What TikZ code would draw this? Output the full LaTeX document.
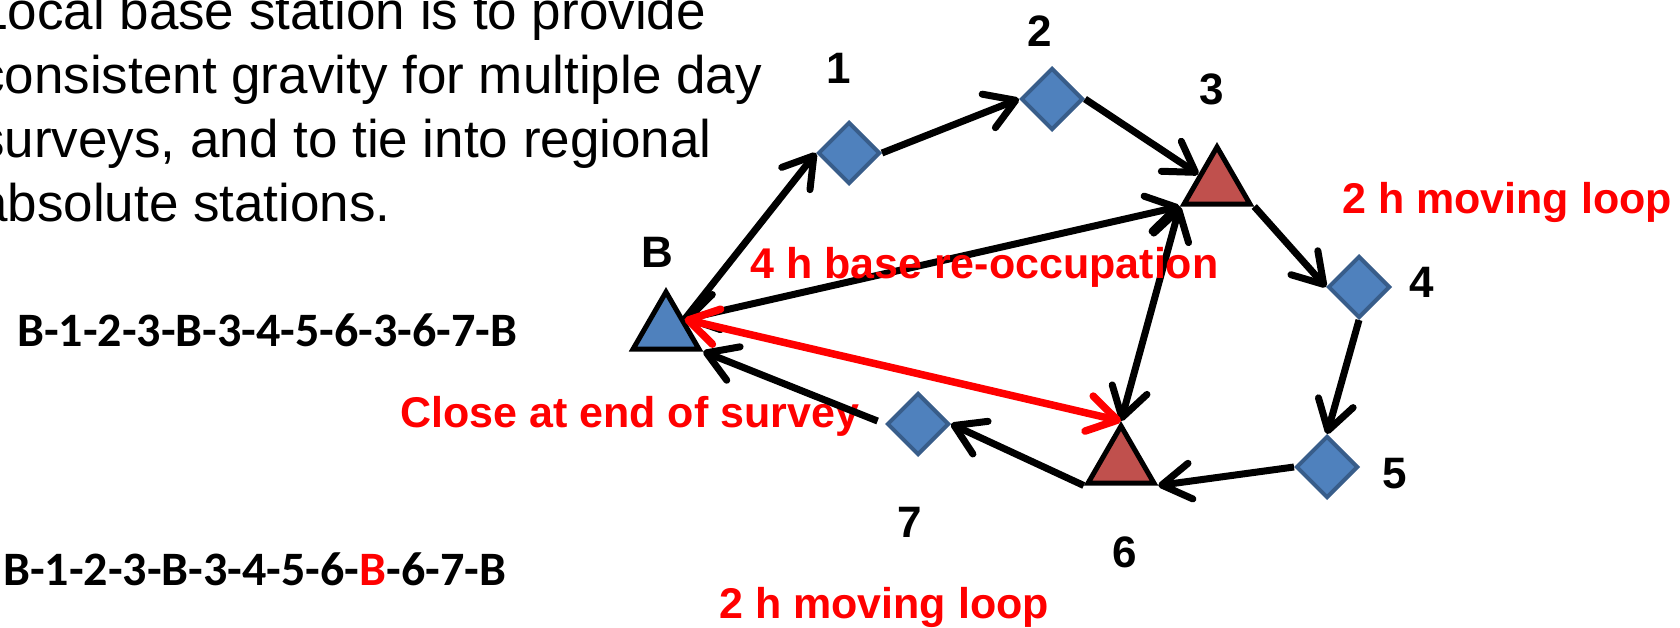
\documentclass[tikz,border=0pt]{standalone}
\usepackage{fontspec}
\setmainfont{Liberation Sans}
\newfontfamily\calibrifont{Carlito}
\usetikzlibrary{arrows.meta,shapes.geometric}
\definecolor{nodeblue}{HTML}{4F81BD}
\definecolor{blueedge}{HTML}{385D8A}
\definecolor{nodered}{HTML}{C0504D}
\definecolor{txtred}{HTML}{FF0000}
\tikzset{
  >={Straight Barb[length=29pt,width=36pt,round]},
  station/.style={diamond, draw=blueedge, fill=nodeblue, line width=4pt, minimum size=62pt, inner sep=0pt},
  tri/.style={regular polygon, regular polygon sides=3, draw=black, line width=5pt, minimum size=76pt, inner sep=0pt},
  numlabel/.style={font=\fontsize{44}{44}\selectfont\bfseries, inner sep=0pt},
  redlabel/.style={font=\fontsize{43}{43}\selectfont\bfseries, text=txtred, inner sep=0pt, anchor=base west},
  bodytext/.style={font=\fontsize{53}{64}\selectfont, inner sep=0pt, anchor=base west},
  seqtext/.style={font=\calibrifont\fontsize{48}{48}\selectfont\bfseries, inner sep=0pt, anchor=base west},
  link/.style={line width=7pt, draw=black, ->},
  dlink/.style={line width=7pt, draw=black, <->},
  redlink/.style={line width=7.5pt, draw=txtred, <->}
}
\begin{document}
\begin{tikzpicture}[x=1pt,y=-1pt]
\useasboundingbox (0,0) rectangle (1680,627);
% body text
\node[bodytext] (t1) at (-22,29) {Local base station is to provide};
\node[bodytext] (t2) at (-22,93) {consistent gravity for multiple day};
\node[bodytext] (t3) at (-22,157) {surveys, and to tie into regional};
\node[bodytext] (t4) at (-22,221) {absolute stations.};
% sequences
\node[seqtext] (s1) at (17,346) {B-1-2-3-B-3-4-5-6-3-6-7-B};
\node[seqtext] (s2) at (3,585) {B-1-2-3-B-3-4-5-6-\textcolor{txtred}{B}-6-7-B};
% red labels under connectors
\node[redlabel] (close) at (400,427) {Close at end of survey};
\node[redlabel] (loopr) at (1342,213) {2 h moving loop};
\node[redlabel] (loopb) at (719,618) {2 h moving loop};
% stations
\node[tri, fill=nodeblue] (B) at (666,330) {};
\node[tri, fill=nodered] (T3) at (1217,185) {};
\node[tri, fill=nodered] (T6) at (1121,464) {};
\node[station] (n1) at (849,153) {};
\node[station] (n2) at (1052,99) {};
\node[station] (n4) at (1359,287) {};
\node[station] (n5) at (1327,467) {};
\node[station] (n7) at (918,424) {};
% labels
\node[numlabel] (lB) at (657,252) {B};
\node[numlabel] (l1) at (839,68) {1};
\node[numlabel] (l2) at (1040,31) {2};
\node[numlabel] (l3) at (1212,89) {3};
\node[numlabel] (l4) at (1422,282) {4};
\node[numlabel] (l5) at (1395,474) {5};
\node[numlabel] (l6) at (1125,552) {6};
\node[numlabel] (l7) at (910,522) {7};
% connectors
\draw[link] (B.side 3) -- (n1.west);
\draw[link] (n1.east) -- (n2.west);
\draw[link] (n2.east) -- (T3.side 1);
\draw[link] (T3.corner 3) -- (n4.west);
\draw[link] (n4.south) -- (n5.north);
\draw[link] (n5.west) -- (T6.corner 3);
\draw[link] (T6.corner 2) -- (n7.east);
\draw[link, shorten <=8pt] (n7.west) -- (B.corner 3);
\draw[dlink] (B.side 3) -- (T3.corner 2);
\draw[dlink] (T3.corner 2) -- (T6.corner 1);
\draw[redlink] (B.side 3) -- (T6.corner 1);
% label over connectors
\node[redlabel] (reocc) at (750,278) {4 h base re-occupation};
\end{tikzpicture}
\end{document}
